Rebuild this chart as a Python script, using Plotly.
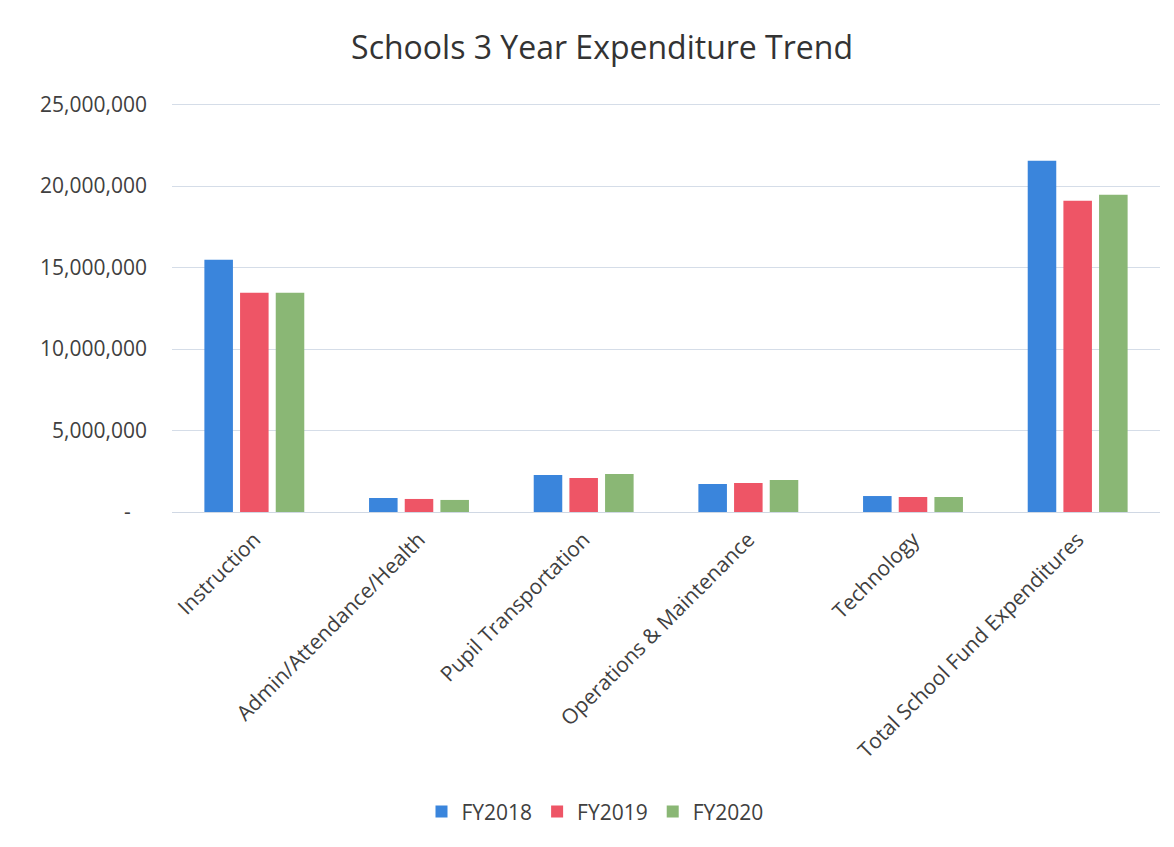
import plotly.graph_objects as go

categories = ["Instruction", "Admin/Attendance/Health", "Pupil Transportation",
              "Operations & Maintenance", "Technology", "Total School Fund Expenditures"]
fy2018 = [15480000, 860000, 2270000, 1720000, 980000, 21560000]
fy2019 = [13450000, 800000, 2090000, 1780000, 920000, 19100000]
fy2020 = [13450000, 740000, 2330000, 1970000, 920000, 19470000]
series_names = ["FY2018", "FY2019", "FY2020"]
colors = ["#3A85DC", "#EE5566", "#8AB775"]
y_tickvals = [0, 5000000, 10000000, 15000000, 20000000, 25000000]
y_ticktext = ["-\u00a0\u00a0\u00a0", "5,000,000", "10,000,000", "15,000,000", "20,000,000", "25,000,000"]

fig = go.Figure()
for name, vals, c in zip(series_names, [fy2018, fy2019, fy2020], colors):
    fig.add_trace(go.Bar(x=categories, y=vals, name=name, marker_color=c,
                         marker_line_width=0))

fig.update_layout(
    width=1174, height=847,
    paper_bgcolor="white", plot_bgcolor="white",
    font=dict(family="Open Sans, sans-serif", color="#404040"),
    title=dict(text="Schools 3 Year Expenditure Trend", x=0.506, xanchor="center",
               y=0.953, yanchor="middle", font=dict(size=32, color="#333333")),
    margin=dict(l=164, r=22, t=95, b=343),
    barmode="group", bargap=0.35, bargroupgap=0.2,
    legend=dict(orientation="h", xref="container", yref="container",
                x=0.5, xanchor="center", y=0.051, yanchor="middle",
                font=dict(size=21, color="#404040"), itemwidth=30),
    showlegend=True,
)
fig.update_xaxes(tickangle=-45, tickfont=dict(size=21, color="#404040"),
                 showline=True, linecolor="#d0d8e4", linewidth=1, ticks="",
                 ticklabelstandoff=6)
fig.update_yaxes(range=[0, 25100000], tickvals=y_tickvals, ticktext=y_ticktext,
                 tickfont=dict(size=21, color="#404040"), showgrid=True,
                 gridcolor="#d5dde8", gridwidth=1, zeroline=False, ticks="",
                 ticklabelstandoff=24)

fig.write_html("out.html")
